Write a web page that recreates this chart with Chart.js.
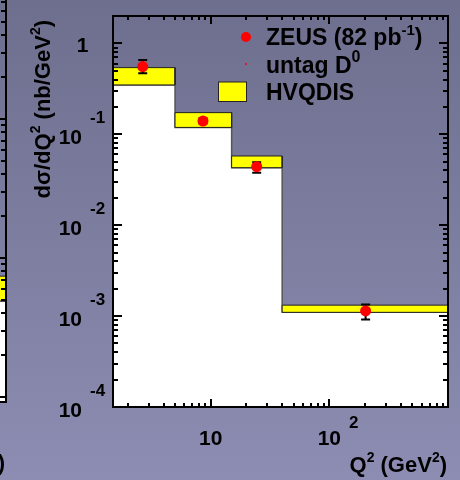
<!DOCTYPE html>
<html>
<head>
<meta charset="utf-8">
<script src="https://cdn.jsdelivr.net/npm/chart.js@4.4.1/dist/chart.umd.min.js"></script>
<style>
  html, body { margin: 0; padding: 0; width: 460px; height: 480px; overflow: hidden; }
  body { position: relative; background: linear-gradient(#6e6e8e, #8d8db3); }
  #side { position: absolute; left: -194px; top: -20px; }
  #main { position: absolute; left: 0; top: 0; }
</style>
</head>
<body>
<canvas id="side" width="204" height="500"></canvas>
<canvas id="main" width="460" height="480"></canvas>
<script>
// Q2 bins (GeV^2) and HVQDIS band
const binLo = [1.5, 5, 15, 40];
const binHi = [5, 15, 40, 1000];
const hvqLow = [0.349, 0.119, 0.0429, 0.0011];
const hvqHigh = [0.541, 0.173, 0.0577, 0.00132];

// ZEUS points with errors
const zeusQ2 = [2.67, 8.6, 24.4, 202];
const zeusVal = [0.555, 0.14, 0.044, 0.00114];
const zeusErrLo = [0.47, 0.131, 0.0378, 0.00092];
const zeusErrHi = [0.658, 0.150, 0.0492, 0.00134];

// tick labels
const yTickVals = [1, 0.1, 0.01, 0.001, 0.0001];
const yTickExp = ['', '-1', '-2', '-3', '-4'];
const xTickVals = [10, 100];
const xTickExp = ['', '2'];

// neighbouring panel (only its right edge shows)
const sideBinLo = [0.8];
const sideBinHi = [1];
const sideLow = [0.0049];
const sideHigh = [0.0074];

const FONT = s => `bold ${s}px "Liberation Sans", Arial, sans-serif`;

function drawRich(ctx, parts, x, y, align, size, supSize, rise) {
  let w = 0;
  parts.forEach(p => { ctx.font = FONT(p.sup ? supSize : size); w += ctx.measureText(p.t).width; });
  let cx = align === 'right' ? x - w : align === 'center' ? x - w / 2 : x;
  ctx.textAlign = 'left';
  ctx.textBaseline = 'alphabetic';
  parts.forEach(p => {
    ctx.font = FONT(p.sup ? supSize : size);
    ctx.fillText(p.t, cx, p.sup ? y - rise : y);
    cx += ctx.measureText(p.t).width;
  });
}

function logTicks(min, max) {
  const out = [];
  for (let e = Math.floor(Math.log10(min)); e <= Math.ceil(Math.log10(max)); e++) {
    for (let m = 1; m <= 9; m++) {
      const v = m * Math.pow(10, e);
      if (v >= min * 0.999 && v <= max * 1.001) out.push({ v, major: m === 1 });
    }
  }
  return out;
}

function drawFrame(chart) {
  const { ctx, chartArea: a, scales: { x, y } } = chart;
  ctx.save();
  ctx.strokeStyle = '#000';
  ctx.lineWidth = 2;
  logTicks(y.min, y.max).forEach(t => {
    const py = Math.round(y.getPixelForValue(t.v));
    const len = t.major ? 9 : 5;
    ctx.beginPath();
    ctx.moveTo(a.left, py); ctx.lineTo(a.left + len, py);
    ctx.moveTo(a.right, py); ctx.lineTo(a.right - len, py);
    ctx.stroke();
  });
  if (x.type === 'logarithmic') {
    logTicks(x.min, x.max).forEach(t => {
      const px = Math.round(x.getPixelForValue(t.v));
      const len = t.major ? 8 : 4;
      ctx.beginPath();
      ctx.moveTo(px, a.bottom); ctx.lineTo(px, a.bottom - len);
      ctx.moveTo(px, a.top); ctx.lineTo(px, a.top + len);
      ctx.stroke();
    });
  }
  ctx.strokeRect(a.left, a.top, a.right - a.left, a.bottom - a.top);
  ctx.restore();
}

function bandSets(lo, hi, low, high) {
  return lo.map((l, i) => ({
    data: [
      { x: l, y: low[i] }, { x: l, y: high[i] }, { x: hi[i], y: high[i] },
      { x: hi[i], y: low[i] }, { x: l, y: low[i] }
    ],
    fill: 'shape',
    backgroundColor: '#ffff00',
    borderColor: '#222',
    borderWidth: 1,
    pointRadius: 0,
    order: 1
  }));
}

function histSet(lo, hi, low) {
  const pts = [];
  lo.forEach((l, i) => { pts.push({ x: l, y: low[i] }, { x: hi[i], y: low[i] }); });
  return {
    data: pts,
    fill: 'start',
    backgroundColor: '#ffffff',
    borderColor: '#555',
    borderWidth: 1.5,
    pointRadius: 0,
    order: 2
  };
}

const errorBars = {
  id: 'errorBars',
  beforeDatasetDraw(chart, args) {
    if (args.index !== 0) return;
    const { ctx, scales: { x, y } } = chart;
    ctx.save();
    ctx.strokeStyle = '#000';
    ctx.lineWidth = 2;
    zeusQ2.forEach((q, i) => {
      const px = x.getPixelForValue(q);
      const y1 = y.getPixelForValue(zeusErrHi[i]);
      const y2 = y.getPixelForValue(zeusErrLo[i]);
      ctx.beginPath();
      ctx.moveTo(px, y1); ctx.lineTo(px, y2);
      ctx.moveTo(px - 4.5, y1); ctx.lineTo(px + 4.5, y1);
      ctx.moveTo(px - 4.5, y2); ctx.lineTo(px + 4.5, y2);
      ctx.stroke();
    });
    ctx.restore();
  }
};

const mainDecor = {
  id: 'mainDecor',
  afterDraw(chart) {
    drawFrame(chart);
    const { ctx, scales: { x, y } } = chart;
    ctx.save();
    ctx.fillStyle = '#000';

    // y tick labels
    yTickVals.forEach((v, i) => {
      const py = y.getPixelForValue(v);
      ctx.textBaseline = 'alphabetic';
      if (yTickExp[i]) {
        ctx.font = FONT(21); ctx.textAlign = 'right';
        ctx.fillText('10', 82, py + 9.5);
        ctx.font = FONT(17); ctx.textAlign = 'left';
        ctx.fillText(yTickExp[i], 90, py - 11);
      } else {
        ctx.font = FONT(21); ctx.textAlign = 'right';
        ctx.fillText('1', 88.5, py + 8.5);
      }
    });

    // x tick labels
    xTickVals.forEach((v, i) => {
      const px = x.getPixelForValue(v);
      ctx.font = FONT(21); ctx.textAlign = 'center'; ctx.textBaseline = 'alphabetic';
      ctx.fillText('10', px, 445);
      if (xTickExp[i]) {
        const w = ctx.measureText('10').width;
        ctx.font = FONT(17); ctx.textAlign = 'left';
        ctx.fillText(xTickExp[i], px + w / 2 + 8, 428);
      }
    });

    // axis titles
    drawRich(ctx, [{ t: 'Q' }, { t: '2', sup: true }, { t: ' (GeV' }, { t: '2', sup: true }, { t: ')' }],
      447, 472, 'right', 22, 14, 10);
    ctx.save();
    ctx.translate(49.5, 20);
    ctx.rotate(-Math.PI / 2);
    drawRich(ctx, [{ t: 'd\u03c3/dQ' }, { t: '2', sup: true }, { t: ' (nb/GeV' }, { t: '2', sup: true }, { t: ')' }],
      0, 0, 'right', 22, 14, 10);
    ctx.restore();

    // legend
    ctx.fillStyle = '#ff0000';
    ctx.beginPath(); ctx.arc(246, 37, 5, 0, Math.PI * 2); ctx.fill();
    ctx.beginPath(); ctx.arc(246, 64, 1, 0, Math.PI * 2); ctx.fill();
    ctx.fillStyle = '#ffff00';
    ctx.fillRect(218.5, 82, 28, 19.5);
    ctx.strokeStyle = '#222'; ctx.lineWidth = 1;
    ctx.strokeRect(218.5, 82, 28, 19.5);
    ctx.fillStyle = '#000';
    drawRich(ctx, [{ t: 'ZEUS (82 pb' }, { t: '-1', sup: true }, { t: ')' }], 266, 44.5, 'left', 23, 15, 10);
    drawRich(ctx, [{ t: 'untag D' }, { t: '0', sup: true }], 266, 72.5, 'left', 23, 16, 11);
    drawRich(ctx, [{ t: 'HVQDIS' }], 266, 99.5, 'left', 23, 14, 10);
    ctx.restore();
  }
};

const sideDecor = {
  id: 'sideDecor',
  afterDraw(chart) {
    drawFrame(chart);
    const { ctx, chartArea: a } = chart;
    ctx.save();
    ctx.fillStyle = '#000';
    drawRich(ctx, [{ t: '\u03b7(D' }, { t: '0', sup: true }, { t: ')' }], a.right - 1, 490, 'right', 22, 14, 10);
    ctx.restore();
  }
};

// main panel: dsigma/dQ2
new Chart(document.getElementById('main'), {
  type: 'line',
  data: {
    datasets: [
      {
        data: zeusQ2.map((q, i) => ({ x: q, y: zeusVal[i] })),
        showLine: false,
        pointRadius: 5.5,
        pointBackgroundColor: '#ff0000',
        pointBorderWidth: 0,
        order: 0
      },
      ...bandSets(binLo, binHi, hvqLow, hvqHigh),
      histSet(binLo, binHi, hvqLow)
    ]
  },
  options: {
    responsive: false,
    animation: false,
    devicePixelRatio: 1,
    layout: { padding: { left: 113, top: 16, right: 12, bottom: 73 } },
    plugins: { legend: { display: false }, tooltip: { enabled: false } },
    scales: {
      x: { type: 'logarithmic', min: 1.5, max: 1000, display: false },
      y: { type: 'logarithmic', min: 1e-4, max: 2, display: false }
    }
  },
  plugins: [errorBars, mainDecor]
});

// neighbouring panel on the left, mostly off screen
new Chart(document.getElementById('side'), {
  type: 'line',
  data: {
    datasets: [
      ...bandSets(sideBinLo, sideBinHi, sideLow, sideHigh),
      histSet(sideBinLo, sideBinHi, sideLow)
    ]
  },
  options: {
    responsive: false,
    animation: false,
    devicePixelRatio: 1,
    layout: { padding: { left: 0, top: 0, right: 4, bottom: 78 } },
    plugins: { legend: { display: false }, tooltip: { enabled: false } },
    scales: {
      x: { type: 'linear', min: 0, max: 1, display: false },
      y: { type: 'logarithmic', min: 0.00092, max: 1, display: false }
    }
  },
  plugins: [sideDecor]
});
</script>
</body>
</html>
